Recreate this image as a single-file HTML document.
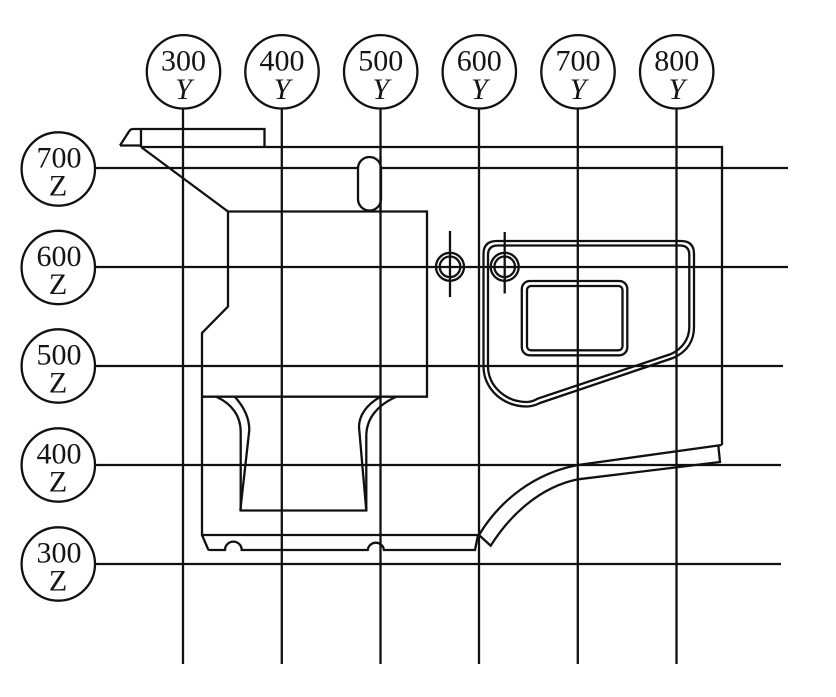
<!DOCTYPE html>
<html>
<head>
<meta charset="utf-8">
<style>
html,body{margin:0;padding:0;background:#fff;width:836px;height:697px;overflow:hidden}
svg{display:block}
text{font-family:"Liberation Serif",serif;font-size:30px;fill:#151515;text-anchor:middle}
.i{font-style:italic}
</style>
</head>
<body>
<svg width="836" height="697" viewBox="0 0 836 697" xmlns="http://www.w3.org/2000/svg">
<g fill="none" stroke="#111" stroke-width="2.300">
<!-- axis lines -->
<path d="M183 108.500V664M281.800 108.500V664M380.500 108.500V664M479 108.500V664M577.800 108.500V664M676.500 108.500V664"/>
<path d="M95 168H358M381 168H788M95 267H788M95 366H783M95 465H781M95 564H781"/>
<!-- circles Y -->
<circle cx="183.500" cy="71.800" r="36.700"/>
<circle cx="282" cy="71.800" r="36.700"/>
<circle cx="380.700" cy="71.800" r="36.700"/>
<circle cx="479.300" cy="71.800" r="36.700"/>
<circle cx="578" cy="71.800" r="36.700"/>
<circle cx="676.700" cy="71.800" r="36.700"/>
<!-- circles Z -->
<circle cx="58.300" cy="169" r="36.700"/>
<circle cx="58.300" cy="267.500" r="36.700"/>
<circle cx="58.300" cy="366" r="36.700"/>
<circle cx="58.300" cy="465" r="36.700"/>
<circle cx="58.300" cy="564" r="36.700"/>
<!-- top flap and body -->
<path d="M120 145.500L129 131.500Q130.500 129 133 129H264.500V147"/>
<path d="M120 145.500H141M141 129V147"/>
<path d="M141 147H722V445"/>
<path d="M141 147L228 211.500H427V396.700H202"/>
<path d="M228 211.500V306.500L202 333V535H478"/>
<path d="M202 535L208 549Q208.500 550 210 550H225A8.300 8.300 0 0 1 241.700 550H367.700A8.200 8.200 0 0 1 384 550H475L478 535"/>
<!-- slot -->
<rect x="358" y="157" width="23" height="53.500" rx="11.500" ry="11.500" fill="#fff"/>
<path d="M380.500 157V211" />
<!-- fork -->
<path d="M216.700 397C232 404 240.700 416 240.700 432V510.500H366.300V436C366.300 418 378 405 395.700 397"/>
<path d="M235 397C244 407 249.300 418 249.300 430L240.300 510.500"/>
<path d="M380 397C366 405 359 416 359 427L366.300 510.500"/>
<!-- small circles -->
<circle cx="450" cy="266.800" r="14"/>
<circle cx="450" cy="266.800" r="10.300"/>
<circle cx="504.700" cy="266.800" r="14"/>
<circle cx="504.700" cy="266.800" r="10.300"/>
<path d="M450 231V297M504.700 232V293.500"/>
<!-- rounded window -->
<path d="M497 241H681Q694 241 694 254V327C694 341 687 352 673 358L540 403Q533 406.500 527 406.500A43 40 0 0 1 483.500 367V254Q483.500 241 497 241Z"/>
<path d="M498 245.500H680Q689.300 245.500 689.300 255V327C689.300 339 682 349 671 354L538 398.500Q532 402 527 402A39 36 0 0 1 488 367V255Q488 245.500 498 245.500Z"/>
<rect x="521.800" y="281" width="105.500" height="74.300" rx="8" ry="8"/>
<rect x="527" y="286" width="95.500" height="64.300" rx="4" ry="4"/>
<!-- lower band -->
<path d="M479 535C500 500 535 473 578 465L721.700 445"/>
<path d="M479 535L490.700 545.700C510 515 540 487 578 479.300L720 462L718.300 445.500"/>
</g>
<text x="183.500" y="70.500">300</text><text x="183.500" y="99" class="i">Y</text>
<text x="282" y="70.500">400</text><text x="282" y="99" class="i">Y</text>
<text x="380.700" y="70.500">500</text><text x="380.700" y="99" class="i">Y</text>
<text x="479.300" y="70.500">600</text><text x="479.300" y="99" class="i">Y</text>
<text x="578" y="70.500">700</text><text x="578" y="99" class="i">Y</text>
<text x="676.700" y="70.500">800</text><text x="676.700" y="99" class="i">Y</text>
<text x="59" y="167.500">700</text><text x="58" y="195.500">Z</text>
<text x="59" y="266">600</text><text x="58" y="294">Z</text>
<text x="59" y="364.500">500</text><text x="58" y="392.500">Z</text>
<text x="59" y="463.500">400</text><text x="58" y="491.500">Z</text>
<text x="59" y="562.500">300</text><text x="58" y="590.500">Z</text>
</svg>
</body>
</html>
